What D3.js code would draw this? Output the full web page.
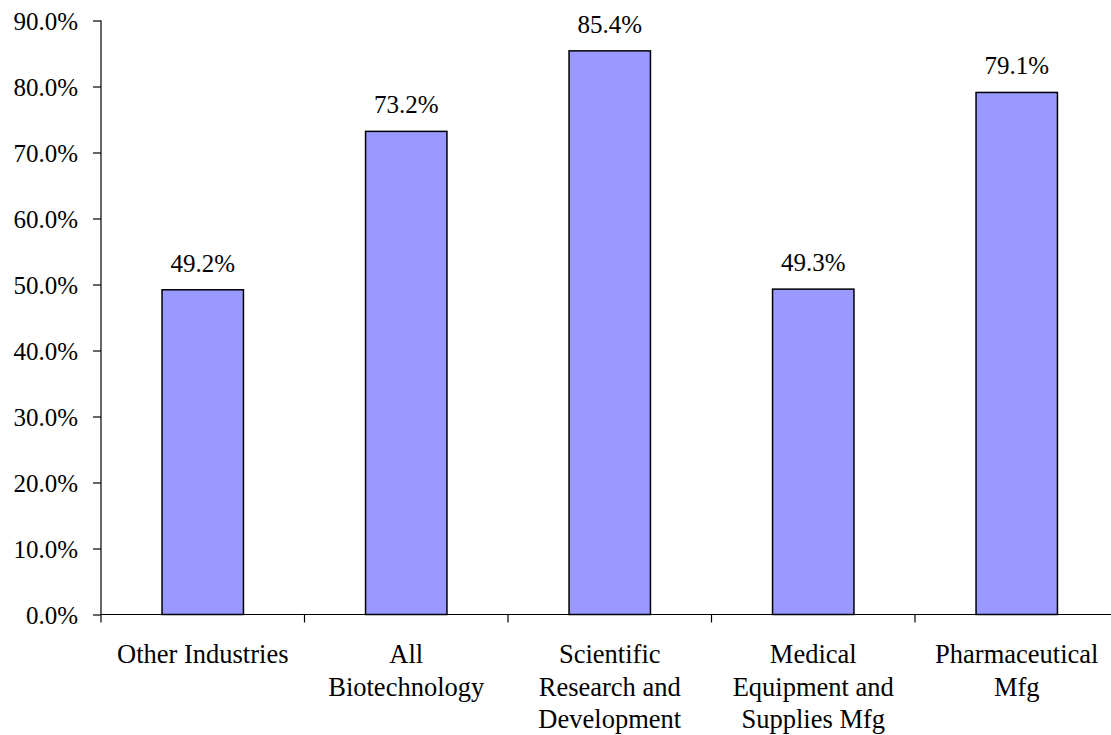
<!DOCTYPE html>
<html>
<head>
<meta charset="utf-8">
<script src="https://cdn.jsdelivr.net/npm/d3@7"></script>
</head>
<body style="margin:0">
<svg id="chart" width="1111" height="735" font-family="Liberation Serif"></svg>
<script>
// Share of establishments by industry group (percent)
const categories = [
  ["Other Industries"],
  ["All", "Biotechnology"],
  ["Scientific", "Research and", "Development"],
  ["Medical", "Equipment and", "Supplies Mfg"],
  ["Pharmaceutical", "Mfg"]
];
const values = [49.2, 73.2, 85.4, 49.3, 79.1];
const yTicks = [0, 10, 20, 30, 40, 50, 60, 70, 80, 90];

const svg = d3.select("#chart");
const plotLeft = 101, plotTop = 20.5, plotBottom = 614.5, plotRight = 1118.5;
const fontName = "Liberation Serif";
const numSize = 25, catSize = 26.5;

const y = d3.scaleLinear().domain([0, 90]).range([plotBottom, plotTop]);
const x = d3.scaleBand()
  .domain(d3.range(values.length))
  .range([plotLeft, plotRight])
  .paddingInner(0.6)
  .paddingOuter(0.3);
const step = x.step();

// Y axis
const yAxis = d3.axisLeft(y)
  .tickValues(yTicks)
  .tickFormat(d => d.toFixed(1) + "%")
  .tickSize(8)
  .tickPadding(15);
const gy = svg.append("g").attr("transform", `translate(${plotLeft},0)`).call(yAxis);
gy.attr("font-family", fontName).attr("font-size", numSize);
gy.select(".domain").attr("stroke", "#000").attr("stroke-width", 1.2)
  .attr("d", `M0,${plotBottom}V${plotTop}`);
gy.selectAll(".tick line").attr("stroke", "#000").attr("stroke-width", 1.2);
gy.selectAll(".tick text")
  .style("font-family", fontName)
  .attr("font-size", numSize)
  .attr("fill", "#000")
  .attr("dy", "0.34em");

// X axis baseline with ticks at category boundaries
const gx = svg.append("g");
gx.append("line")
  .attr("x1", plotLeft).attr("x2", plotRight)
  .attr("y1", plotBottom).attr("y2", plotBottom)
  .attr("stroke", "#000").attr("stroke-width", 1.2);
gx.selectAll("line.tick")
  .data(d3.range(values.length + 1))
  .join("line")
  .attr("class", "tick")
  .attr("x1", i => plotLeft + i * step).attr("x2", i => plotLeft + i * step)
  .attr("y1", plotBottom).attr("y2", plotBottom + 8)
  .attr("stroke", "#000").attr("stroke-width", 1.2);

// Bars
svg.append("g").selectAll("rect")
  .data(values)
  .join("rect")
  .attr("x", (d, i) => x(i))
  .attr("y", d => y(d))
  .attr("width", x.bandwidth())
  .attr("height", d => plotBottom - y(d))
  .attr("fill", "#9999ff")
  .attr("stroke", "#000")
  .attr("stroke-width", 1.5);

// Value labels
svg.append("g").selectAll("text")
  .data(values)
  .join("text")
  .attr("x", (d, i) => x(i) + x.bandwidth() / 2)
  .attr("y", d => y(d) - 18)
  .attr("text-anchor", "middle")
  .style("font-family", fontName)
  .attr("font-size", numSize)
  .attr("fill", "#000")
  .text(d => d.toFixed(1) + "%");

// Category labels (multi-line)
const cat = svg.append("g").selectAll("text")
  .data(categories)
  .join("text")
  .attr("text-anchor", "middle")
  .style("font-family", fontName)
  .attr("font-size", catSize)
  .attr("fill", "#000")
  .attr("x", (d, i) => x(i) + x.bandwidth() / 2)
  .attr("y", 663);
cat.selectAll("tspan")
  .data(d => d)
  .join("tspan")
  .attr("x", function() { return d3.select(this.parentNode).attr("x"); })
  .attr("dy", (d, j) => j === 0 ? 0 : 32.5)
  .text(d => d);
</script>
</body>
</html>
